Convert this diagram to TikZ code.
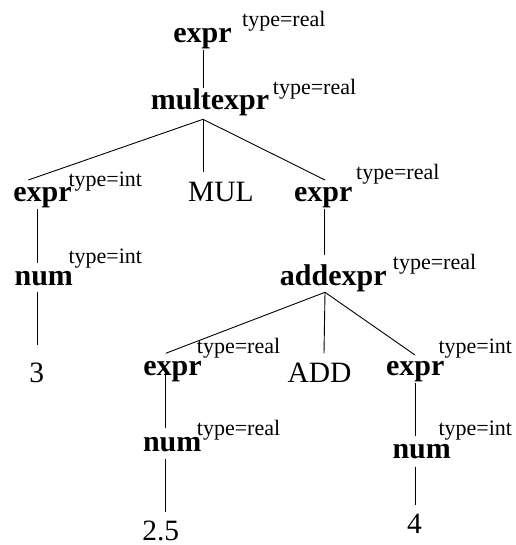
\documentclass[tikz,border=0pt]{standalone}
\usepackage{fontspec}
\setmainfont{Liberation Serif}
\tikzset{
  nt/.style={font=\fontsize{30}{30}\selectfont\bfseries,anchor=base,inner sep=0pt},
  tm/.style={font=\fontsize{29.5}{30}\selectfont,anchor=base,inner sep=0pt},
  attr/.style={font=\fontsize{22}{22}\selectfont,anchor=base west,inner sep=0pt},
  edge/.style={line width=0.9pt}
}
\begin{document}
\begin{tikzpicture}[x=1pt,y=-1pt]
  \useasboundingbox (0,0) rectangle (515,545);

  % 语法树结点
  \node[nt] (root)  at (202.5,43)    {expr};
  \node[nt] (mult)  at (210,110)     {multexpr};
  \node[nt] (e1)    at (42.5,201.7)  {expr};
  \node[tm] (mul)   at (220.8,201.7) {MUL};
  \node[nt] (e2)    at (323.3,201.7) {expr};
  \node[nt] (n1)    at (43.8,285)    {num};
  \node[nt] (add)   at (333.3,285)   {addexpr};
  \node[tm] (three) at (36.7,382.7)  {3};
  \node[nt] (e3)    at (172.5,375)   {expr};
  \node[tm] (addop) at (319.5,382.7) {ADD};
  \node[nt] (e4)    at (415.2,375)   {expr};
  \node[nt] (n2)    at (172.2,451)   {num};
  \node[nt] (n3)    at (421.7,458.3) {num};
  \node[tm] (v25)   at (160.8,540)   {2.5};
  \node[tm] (v4)    at (414.5,533.3) {4};

  % 属性 type
  \node[attr] (rootT) at (242,27)      {type=real};
  \node[attr] (multT) at (272.7,95)    {type=real};
  \node[attr] (e1T)   at (68.3,186.7)  {type=int};
  \node[attr] (e2T)   at (356,179)     {type=real};
  \node[attr] (n1T)   at (68.3,263.3)  {type=int};
  \node[attr] (addT)  at (392.7,269.3) {type=real};
  \node[attr] (e3T)   at (196.7,353.3) {type=real};
  \node[attr] (e4T)   at (438.3,353.3) {type=int};
  \node[attr] (n2T)   at (196.7,435.7) {type=real};
  \node[attr] (n3T)   at (438.3,435.7) {type=int};

  % 连线端点
  \coordinate (root-s) at (203,50);
  \coordinate (mult-n) at (203,88);
  \coordinate (mult-s) at (203,119.3);
  \coordinate (e1-n)   at (28.3,180);
  \coordinate (mul-n)  at (203,171.7);
  \coordinate (e2-n)   at (325,180);
  \coordinate (e1-s)   at (37.3,209.3);
  \coordinate (n1-n)   at (37.3,263.3);
  \coordinate (n1-s)   at (37.3,292.3);
  \coordinate (three-n) at (37.3,345);
  \coordinate (e2-s)   at (324,209.3);
  \coordinate (add-n)  at (324,255);
  \coordinate (add-s)  at (325,292.3);
  \coordinate (e3-n)   at (165.7,353.3);
  \coordinate (addop-n) at (324,353.3);
  \coordinate (e4-n)   at (415,355);
  \coordinate (e3-s)   at (165.7,373.3);
  \coordinate (n2-n)   at (165.7,428.3);
  \coordinate (n2-s)   at (165.7,459.3);
  \coordinate (v25-n)  at (165.7,511.7);
  \coordinate (e4-s)   at (415,383.3);
  \coordinate (n3-n)   at (415,435.7);
  \coordinate (n3-s)   at (415,466.7);
  \coordinate (v4-n)   at (415,505);

  % 树边
  \draw[edge] (root-s) -- (mult-n);
  \draw[edge] (mult-s) -- (e1-n);
  \draw[edge] (mult-s) -- (mul-n);
  \draw[edge] (mult-s) -- (e2-n);
  \draw[edge] (e1-s) -- (n1-n);
  \draw[edge] (n1-s) -- (three-n);
  \draw[edge] (e2-s) -- (add-n);
  \draw[edge] (add-s) -- (e3-n);
  \draw[edge] (add-s) -- (addop-n);
  \draw[edge] (add-s) -- (e4-n);
  \draw[edge] (e3-s) -- (n2-n);
  \draw[edge] (n2-s) -- (v25-n);
  \draw[edge] (e4-s) -- (n3-n);
  \draw[edge] (n3-s) -- (v4-n);
\end{tikzpicture}
\end{document}
